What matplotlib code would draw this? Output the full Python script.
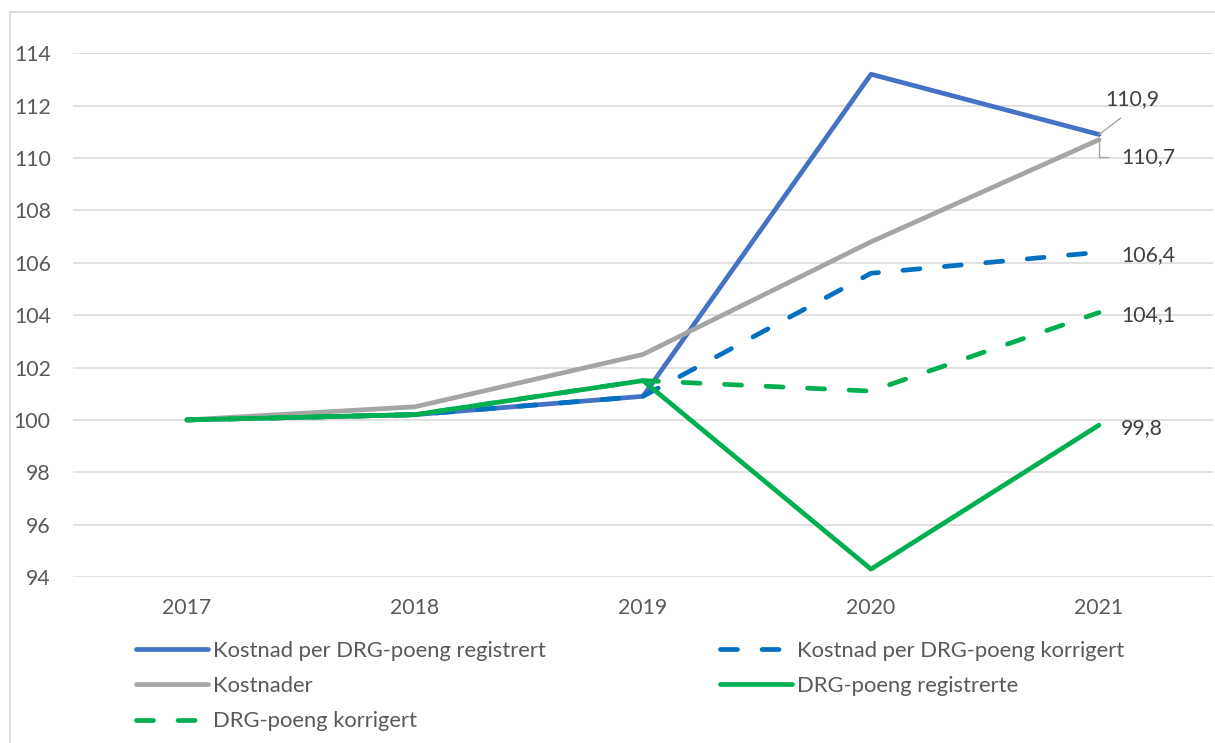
import matplotlib
matplotlib.use("Agg")
import matplotlib.pyplot as plt
from matplotlib.patches import Rectangle

# data (index, 2017 = 100)
years = ["2017", "2018", "2019", "2020", "2021"]
kost_drg_reg = [100, 100.2, 100.9, 113.2, 110.9]
kost_drg_korr = [100, 100.2, 100.9, 105.6, 106.4]
kostnader = [100, 100.5, 102.5, 106.8, 110.7]
drg_reg = [100, 100.2, 101.5, 94.3, 99.8]
drg_korr = [100, 100.2, 101.5, 101.1, 104.1]

labels = ["Kostnad per DRG-poeng registrert", "Kostnad per DRG-poeng korrigert",
          "Kostnader", "DRG-poeng registrerte", "DRG-poeng korrigert"]
y_ticks = [94, 96, 98, 100, 102, 104, 106, 108, 110, 112, 114]

plt.rcParams['font.family'] = ['Lato', 'DejaVu Sans']

W, H = 1215, 743
fig = plt.figure(figsize=(W / 100, H / 100), dpi=100)
ax = fig.add_axes([73 / W, 1 - 577 / H, 1140 / W, (577 - 53.3) / H])

lw = 3.4
dash = (3.6, 5.2)
x = list(range(len(years)))
l1, = ax.plot(x, kost_drg_reg, color='#4472C4', lw=lw, solid_capstyle='round', solid_joinstyle='round')
l2, = ax.plot(x, kost_drg_korr, color='#0070C0', lw=lw, dashes=dash, dash_capstyle='round')
l3, = ax.plot(x, kostnader, color='#A5A5A5', lw=lw, solid_capstyle='round', solid_joinstyle='round')
l4, = ax.plot(x, drg_reg, color='#00B050', lw=lw, solid_capstyle='round', solid_joinstyle='round')
l5, = ax.plot(x, drg_korr, color='#00B050', lw=lw, dashes=dash, dash_capstyle='round')

ax.set_xlim(-0.5, 4.5)
ax.set_ylim(94, 114)
ax.set_yticks(y_ticks)
ax.set_xticks(x)
ax.set_xticklabels(years)
ax.grid(axis='y', color='#D9D9D9', lw=1.1)
ax.set_axisbelow(True)
for s in ax.spines.values():
    s.set_visible(False)
ax.tick_params(length=0, labelsize=15.3, colors='#595959')
ax.tick_params(axis='y', pad=16)
ax.tick_params(axis='x', pad=15)

# data labels for 2021
lab_col = '#404040'
gray = '#A5A5A5'
ax.annotate(f"{kost_drg_reg[-1]:.1f}".replace('.', ','), xy=(4, kost_drg_reg[-1]),
            xytext=(33, 35), textcoords='offset pixels', ha='center', va='center',
            fontsize=15.3, color=lab_col,
            arrowprops=dict(arrowstyle='-', color=gray, lw=1, shrinkA=7, shrinkB=0,
                            relpos=(0.5, 0)))
ax.annotate(f"{kostnader[-1]:.1f}".replace('.', ','), xy=(4, kostnader[-1]),
            xytext=(49, -17), textcoords='offset pixels', ha='center', va='center',
            fontsize=15.3, color=lab_col,
            arrowprops=dict(arrowstyle='-', color=gray, lw=1, shrinkA=7, shrinkB=0,
                            relpos=(0, 0.5), connectionstyle='angle,angleA=0,angleB=90,rad=0'))
for vals in [kost_drg_korr, drg_korr, drg_reg]:
    ax.annotate(f"{vals[-1]:.1f}".replace('.', ','), xy=(4, vals[-1]),
                xytext=(22, -3), textcoords='offset pixels', ha='left', va='center',
                fontsize=15.3, color=lab_col)

# legend, laid out row by row like the original
leg_kw = dict(loc='upper left', frameon=False, fontsize=15.8, handlelength=3.3,
              handletextpad=0.2, labelspacing=0.69, borderpad=0, borderaxespad=0,
              labelcolor='#595959')
fig.legend([l1, l3, l5], [labels[0], labels[2], labels[4]],
           bbox_to_anchor=(136 / W, 1 - 641 / H), **leg_kw)
fig.legend([l2, l4], [labels[1], labels[3]],
           bbox_to_anchor=(720 / W, 1 - 641 / H), **leg_kw)

# chart border
fig.patches.append(Rectangle((10 / W, -0.1), 1.2, 1 - 12 / H + 0.1, transform=fig.transFigure,
                             fill=False, ec='#D9D9D9', lw=1.2))

fig.savefig("out.png", dpi=100)
